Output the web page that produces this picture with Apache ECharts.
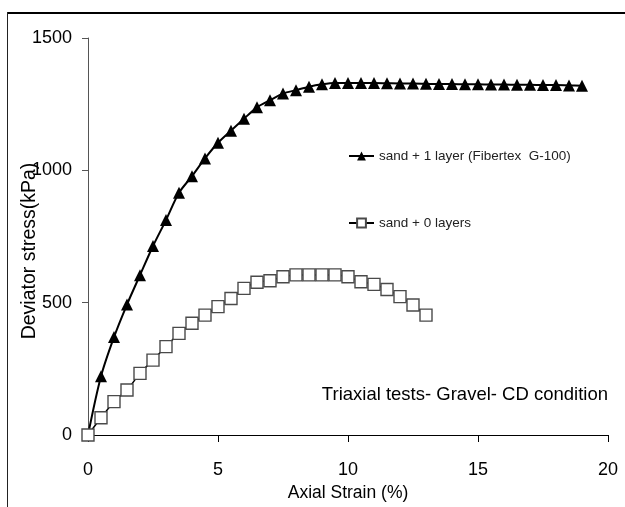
<!DOCTYPE html>
<html>
<head>
<meta charset="utf-8">
<script src="https://cdn.jsdelivr.net/npm/echarts@6/dist/echarts.min.js"></script>
<style>
html,body{margin:0;padding:0;background:#fff;}
#chart{width:625px;height:507px;}
</style>
</head>
<body>
<div id="chart"></div>
<script>
const seriesNames = ['sand + 1 layer (Fibertex  G-100)', 'sand + 0 layers'];
const strainLayer = [0,0.5,1,1.5,2,2.5,3,3.5,4,4.5,5,5.5,6,6.5,7,7.5,8,8.5,9,9.5,10,10.5,11,11.5,12,12.5,13,13.5,14,14.5,15,15.5,16,16.5,17,17.5,18,18.5,19];
const stressLayer = [0,222,370,493,604,714,812,915,978,1045,1104,1150,1195,1238,1265,1290,1303,1316,1325,1330,1330,1330,1330,1329,1328,1328,1327,1326,1326,1325,1325,1324,1324,1323,1323,1322,1322,1321,1320];
const strainNone = [0,0.5,1,1.5,2,2.5,3,3.5,4,4.5,5,5.5,6,6.5,7,7.5,8,8.5,9,9.5,10,10.5,11,11.5,12,12.5,13];
const stressNone = [0,65,126,170,233,283,334,384,422,453,485,516,554,577,583,598,605,605,605,605,598,579,569,550,523,491,453];
const xTicks = {min:0, max:20, interval:5};
const yTicks = {min:0, max:1500, interval:500};
const xTitle = 'Axial Strain (%)';
const yTitle = 'Deviator stress(kPa)';
const note = 'Triaxial tests- Gravel- CD condition';

const font = '"Liberation Sans", Arial, sans-serif';
const chart = echarts.init(document.getElementById('chart'), null, {renderer:'canvas'});
chart.setOption({
  animation:false,
  backgroundColor:'#fff',
  grid:{left:88, right:17, top:38, bottom:72, containLabel:false},
  legend:[
    {data:[seriesNames[0]], left:348, top:149, padding:0, itemWidth:25, itemHeight:11, itemGap:5,
     textStyle:{fontFamily:font, fontSize:13.5, color:'#222'}, selectedMode:false},
    {data:[seriesNames[1]], left:348, top:216, padding:0, itemWidth:25, itemHeight:11, itemGap:5,
     textStyle:{fontFamily:font, fontSize:13.5, color:'#222'}, selectedMode:false}
  ],
  xAxis:{
    type:'value', min:xTicks.min, max:xTicks.max, interval:xTicks.interval,
    name:xTitle, nameLocation:'middle', nameGap:43,
    nameTextStyle:{fontFamily:font, fontSize:17.5, color:'#000'},
    axisLine:{show:true, onZero:false, lineStyle:{color:'#000', width:1}},
    axisTick:{show:true, inside:false, length:7, lineStyle:{color:'#000'}},
    axisLabel:{margin:26, fontFamily:font, fontSize:18, color:'#000'},
    splitLine:{show:false}
  },
  yAxis:{
    type:'value', min:yTicks.min, max:yTicks.max, interval:yTicks.interval,
    axisLine:{show:true, onZero:false, lineStyle:{color:'#555', width:1}},
    axisTick:{show:true, inside:false, length:6, lineStyle:{color:'#555'}},
    axisLabel:{margin:16, fontFamily:font, fontSize:18, color:'#000', formatter:v=>String(v)},
    splitLine:{show:false}
  },
  series:[
    {name:seriesNames[0], type:'line', smooth:0.3,
     data:strainLayer.map((x,i)=>[x, stressLayer[i]]),
     symbol:'triangle', symbolSize:12,
     lineStyle:{color:'#000', width:2},
     itemStyle:{color:'#000', borderColor:'#000', borderWidth:0},
     z:3},
    {name:seriesNames[1], type:'line', smooth:0.3,
     data:strainNone.map((x,i)=>[x, stressNone[i]]),
     symbol:'rect', symbolSize:12,
     lineStyle:{color:'#000', width:1.5},
     itemStyle:{color:'#fff', borderColor:'#4a4a4a', borderWidth:1.4},
     z:4}
  ],
  graphic:[
    {type:'line', shape:{x1:7, y1:13, x2:625, y2:13}, style:{stroke:'#000', lineWidth:2}},
    {type:'line', shape:{x1:7.5, y1:12, x2:7.5, y2:507}, style:{stroke:'#222', lineWidth:1}},
    {type:'text', x:608, y:395,
     style:{text:note, fontFamily:font, fontSize:18.5, fill:'#000', align:'right', verticalAlign:'middle'}},
    {type:'text', x:30, y:251, rotation:Math.PI/2,
     style:{text:yTitle, fontFamily:font, fontSize:19.5, fill:'#000', align:'center', verticalAlign:'middle'}}
  ]
});
</script>
</body>
</html>
